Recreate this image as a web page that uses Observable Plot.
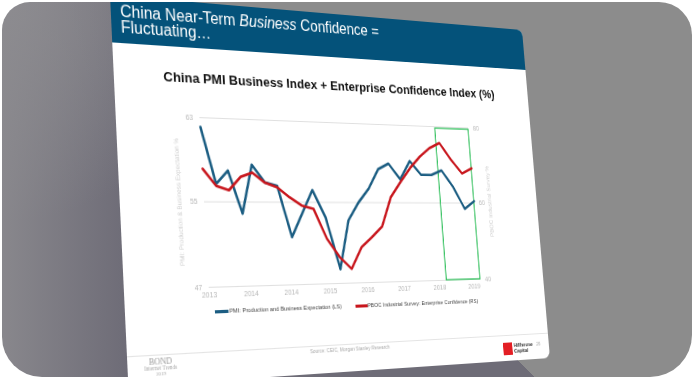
<!DOCTYPE html>
<html><head><meta charset="utf-8">
<script src="https://cdn.jsdelivr.net/npm/d3@7"></script>
<script src="https://cdn.jsdelivr.net/npm/@observablehq/plot@0.6"></script>
<style>
html,body{margin:0;padding:0;background:#fff;width:694px;height:380px;overflow:hidden;}
#frame{position:absolute;left:2px;top:2px;width:690px;height:375px;border-radius:28px 33px 42px 40px;overflow:hidden;
 background:
  linear-gradient(to right, rgba(141,140,144,0.85) 0px, rgba(141,140,144,0) 125px),
  radial-gradient(circle at 0 0, rgba(141,140,144,0.9) 0px, rgba(141,140,144,0) 220px),
  linear-gradient(45deg, #6e6c77 0%, #6e6c77 50%, #8c8c8c 50%, #8c8c8c 100%);}
#slide{position:absolute;left:0;top:0;width:480px;height:360px;background:#fff;transform-origin:0 0;border-radius:0 7px 8px 0;overflow:hidden;font-family:"Liberation Sans",Arial,sans-serif;}
#hdr{position:absolute;left:0;top:0;width:480px;height:45px;background:#04527a;}
#plotwrap{position:absolute;left:0;top:100px;width:480px;height:190px;}
.sw{position:absolute;height:2.2px;}
</style></head>
<body>
<div id="frame"><div id="slide"><div id="hdr"></div><div id="plotwrap"></div></div></div>
<script>
// ---- data ----
const quarters = ["2013-03","2013-06","2013-09","2013-12","2014-03","2014-06","2014-09","2014-12",
  "2015-03","2015-06","2015-09","2015-12","2016-03","2016-06","2016-09","2016-12",
  "2017-03","2017-06","2017-09","2017-12","2018-03","2018-06","2018-09","2018-12","2019-03"];
const pmiValues = [62.1,56.7,58.0,53.9,58.6,56.9,56.6,51.6,53.9,56.2,53.5,48.4,53.2,55.0,56.4,58.4,
  59.0,57.4,59.3,57.9,57.9,58.4,56.7,54.4,55.2];
const pbocValues = [67.8,63.8,62.8,66.0,67.1,64.7,63.6,61.2,59.2,58.4,51.0,46.5,43.5,48.8,51.3,54.0,
  61.4,65.3,69.0,72.0,74.3,75.7,71.4,67.8,69.2];
const leftTicks = [47,55,63];
const rightTicks = [40,60,80];
const xTickLabels = ["2013","2014","2014","2015","2016","2017","2018","2019"];
const seriesNames = ["PMI: Production and Business Expectation (LS)","PBOC Industrial Survey: Enterprise Confidence (RS)"];
const highlight = {from:"2018-05-05", to:"2019-03-01", low:47, high:62.8};

// ---- slide projection ----
function homography(W,H,q){
  const [x0,y0]=q[0],[x1,y1]=q[1],[x2,y2]=q[2],[x3,y3]=q[3];
  const dx1=x1-x2, dx2=x3-x2, dx3=x0-x1+x2-x3;
  const dy1=y1-y2, dy2=y3-y2, dy3=y0-y1+y2-y3;
  const det=dx1*dy2-dx2*dy1;
  const g=(dx3*dy2-dx2*dy3)/det, h=(dx1*dy3-dx3*dy1)/det;
  const a=x1-x0+g*x1, b=x3-x0+h*x3, c=x0;
  const d=y1-y0+g*y1, e=y3-y0+h*y3, f=y0;
  return `matrix3d(${a/W},${d/W},0,${g/W},${b/H},${e/H},0,${h/H},0,0,1,0,${c},${f},0,1)`;
}
const off=2;
const quad=[[110,-5],[522,30],[550,358],[128.4,386.6]].map(([x,y])=>[x-off,y-off]);
const slide=document.getElementById("slide");
slide.style.transform=homography(480,360,quad);

function txt(parent,html,x,base,fs,o={}){
  const el=document.createElement("div");
  el.innerHTML=html;
  let s=`position:absolute;white-space:nowrap;font-size:${fs}px;line-height:${fs}px;top:${base-0.8465*fs}px;color:${o.color||"#000"};`;
  if(o.family) s+=`font-family:${o.family};`;
  if(o.weight) s+=`font-weight:${o.weight};`;
  if(o.anchor==="middle") s+=`left:${x}px;transform:translateX(-50%);`;
  else if(o.anchor==="end") s+=`right:${480-x}px;`;
  else s+=`left:${x}px;`;
  el.style.cssText=s;
  parent.appendChild(el);
  return el;
}
// header
txt(slide,"China Near-Term <i>Business</i> Confidence =",9.3,20.2,15.6,{color:"#fff"});
txt(slide,"Fluctuating…",9.3,35.5,15.6,{color:"#fff"});
// chart title
txt(slide,"China PMI Business Index + Enterprise Confidence Index (%)",242,79,13.3,{anchor:"middle",weight:"bold",color:"#111"});

// ---- chart ----
const dates = quarters.map(q=>new Date(q+"-01T00:00:00Z"));
const pmiData = dates.map((date,i)=>({date, v:pmiValues[i]}));
// right-axis values expressed in left-axis units for the shared y scale
const toLeft = v => leftTicks[0] + (v-rightTicks[0])*(leftTicks[2]-leftTicks[0])/(rightTicks[2]-rightTicks[0]);
const pbocData = dates.map((date,i)=>({date, v:toLeft(pbocValues[i])}));
const tickDates = xTickLabels.map((_,i)=>d3.utcMonth.offset(dates[0],10*i));
const xLabel = d => xTickLabels[tickDates.findIndex(t=>+t===+d)];
const rLabel = d => rightTicks[leftTicks.indexOf(d)];

const chart = Plot.plot({
  width:480, height:190,
  marginTop:12, marginBottom:17, marginLeft:84, marginRight:84,
  x:{type:"utc", domain:[dates[0], dates[dates.length-1]]},
  y:{domain:[leftTicks[0], leftTicks[2]]},
  style:{background:"transparent", fontFamily:"Liberation Sans, Arial, sans-serif", overflow:"visible"},
  marks:[
    Plot.ruleY(leftTicks,{stroke:"#dcdcdc", strokeWidth:0.9}),
    Plot.rect([highlight],{x1:d=>new Date(d.from+"T00:00:00Z"), x2:d=>new Date(d.to+"T00:00:00Z"), y1:"low", y2:"high", fill:"none", stroke:"#2fbf5a", strokeWidth:1.3}),
    Plot.line(pmiData,{x:"date", y:"v", stroke:"#1b5d82", strokeWidth:2.6, strokeLinejoin:"round"}),
    Plot.line(pbocData,{x:"date", y:"v", stroke:"#c8161d", strokeWidth:2.6, strokeLinejoin:"round"}),
    Plot.axisY(leftTicks,{anchor:"left", tickSize:0, tickPadding:7, fontSize:7, color:"#b8b8b8", label:null}),
    Plot.axisY(leftTicks,{anchor:"right", tickSize:0, tickPadding:6, fontSize:7, color:"#b8b8b8", tickFormat:rLabel, label:null}),
    Plot.axisX(tickDates,{anchor:"bottom", tickSize:0, tickPadding:5, fontSize:7, color:"#b8b8b8", tickFormat:xLabel, label:null})
  ]
});
document.getElementById("plotwrap").appendChild(chart);

// axis titles
function vtxt(str,cx,cy,fs){
  const el=document.createElement("div");
  el.textContent=str;
  el.style.cssText=`position:absolute;white-space:nowrap;font-size:${fs}px;line-height:${fs}px;color:#cbcbcb;left:${cx}px;top:${cy}px;transform:translate(-50%,-50%) rotate(-90deg);`;
  slide.appendChild(el);
}
vtxt("PMI: Production & Business Expectation %",58.6,193.3,6.3);
vtxt("PBOC Industrial Survey %",417,190.7,6.5);

// legend
function swatch(x,w,y,c){const s=document.createElement("div");s.className="sw";s.style.cssText+=`left:${x}px;top:${y-1.1}px;width:${w}px;background:${c};`;slide.appendChild(s);}
swatch(89,14,296.5,"#1b5d82");
txt(slide,seriesNames[0],104,298.6,5.8,{color:"#444"});
swatch(241.5,14,296.5,"#c8161d");
txt(slide,seriesNames[1],256,298.6,5.8,{color:"#444"});

// footer
const fl=document.createElement("div");
fl.style.cssText="position:absolute;left:0;top:333px;width:480px;height:0.8px;background:#e4e4e4;";
slide.appendChild(fl);
txt(slide,"Source: CEIC, Morgan Stanley Research",233,340.5,5,{anchor:"middle",color:"#aaa"});
const logo=document.createElement("div");
logo.style.cssText="position:absolute;left:419px;top:341px;width:12px;height:13px;background:#e31e24;";
slide.appendChild(logo);
txt(slide,"Hillhouse",433,346.5,5.6,{weight:"bold",color:"#333"});
txt(slide,"Capital",433,352.5,5.6,{weight:"bold",color:"#333"});
txt(slide,"26",463,346,5,{color:"#aaa"});
txt(slide,"BOND",32,342.3,8,{anchor:"middle",color:"#999",family:"'Liberation Serif',serif"});
txt(slide,"Internet Trends",32,347.8,5.3,{anchor:"middle",color:"#aaa",family:"'Liberation Serif',serif"});
txt(slide,"2019",32,352.6,4.8,{anchor:"middle",color:"#aaa",family:"'Liberation Serif',serif"});
</script>
</body></html>
